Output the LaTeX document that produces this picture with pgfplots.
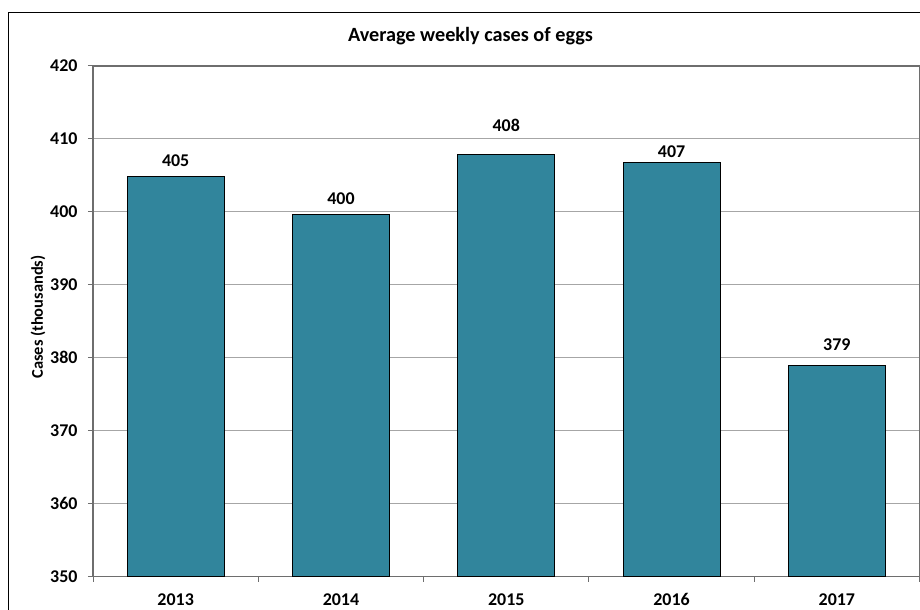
\documentclass[border=0pt]{standalone}
\usepackage{pgfplots}
\pgfplotsset{compat=1.18}
\usepackage{pgfplotstable}
\usepackage{fontspec}
\setmainfont{Carlito}
\definecolor{barfill}{HTML}{31859C}
\definecolor{framegray}{HTML}{6E6E6E}
\definecolor{gridgray}{HTML}{A6A6A6}
\pgfplotstableread{
x year value dy
0 2013 404.8 16
1 2014 399.6 15.7
2 2015 407.8 29.7
3 2016 406.8 10.6
4 2017 379.0 20.7
}\eggs
\begin{document}
\begin{tikzpicture}[x=1bp,y=1bp]
\path[use as bounding box] (0,0) rectangle (920,610);
\draw[black, line width=1.3bp] (8.5,-2) -- (8.5,597.5) -- (922,597.5);
\node[font=\bfseries\fontsize{20.3}{24}\selectfont, anchor=base, inner sep=0pt] at (470.5,568.3) {Average weekly cases of eggs};
\node[font=\bfseries\fontsize{16.5}{20}\selectfont, rotate=90, inner sep=0pt] at (38,293) {Cases (thousands)};
\begin{axis}[
  at={(93bp,33.3bp)}, anchor=south west,
  scale only axis, width=826.5bp, height=510.7bp,
  xmin=-0.5, xmax=4.5, ymin=350, ymax=420,
  ytick={350,360,...,420},
  xtick={-0.5,0.5,...,4.5},
  xticklabels={2013,2014,2015,2016,2017},
  x tick label as interval,
  tick pos=left,
  tick align=outside,
  major tick length=5bp,
  ymajorgrids,
  major grid style={gridgray, line width=1bp},
  axis line style={framegray, line width=1.2bp},
  tick style={framegray, line width=1bp},
  /pgf/number format/assume math mode=true,
  ticklabel style={font=\bfseries\fontsize{18}{20}\selectfont, text=black},
  yticklabel style={xshift=-7bp},
  xticklabel style={anchor=base, inner sep=0pt, yshift=-24bp},
  /pgf/number format/1000 sep={},
  ybar,
  bar width=0.587,
  nodes near coords={\pgfmathprintnumber[fixed,precision=0]{\pgfplotspointmeta}},
  visualization depends on={\thisrow{dy} \as \dy},
  every node near coord/.append style={anchor=center, inner sep=0pt, yshift=\dy bp, font=\bfseries\fontsize{18}{20}\selectfont, text=black},
]
\addplot[fill=barfill, draw=black, line width=1bp] table[x=x, y=value] {\eggs};
\end{axis}
\end{tikzpicture}
\end{document}
